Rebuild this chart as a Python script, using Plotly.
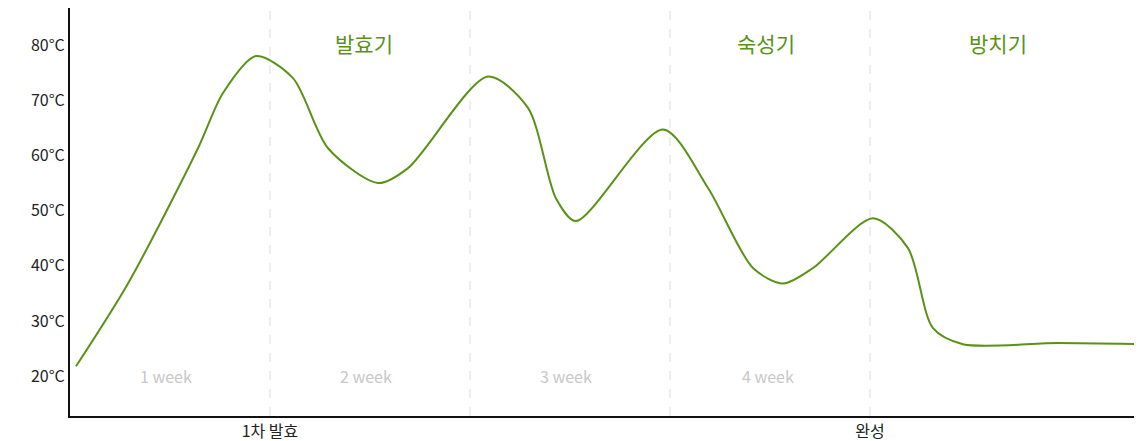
import plotly.graph_objects as go

# curve (x in weeks, y in °C)
week_x = [0.03, 0.29, 0.64, 0.765, 0.93, 1.115, 1.29, 1.54, 1.69, 2.09, 2.29, 2.43, 2.53,
          2.965, 3.19, 3.415, 3.565, 3.715, 4.015, 4.19, 4.315, 4.465, 4.94, 5.365]
temp_y = [21.8, 36.8, 61.3, 71.3, 78.0, 74.0, 61.3, 55.0, 57.7, 74.3, 68.6, 52.2, 48.1,
          64.7, 54.1, 39.6, 36.8, 39.6, 48.6, 43.2, 28.7, 25.8, 26.0, 25.8]
y_ticks = [20, 30, 40, 50, 60, 70, 80]
y_labels = [f"{v}°C" for v in y_ticks]
x_ticks = [1, 4]
x_labels = ["1차 발효", "완성"]
week_labels = ["1 week", "2 week", "3 week", "4 week"]
week_pos = [0.48, 1.48, 2.48, 3.49]
phase_labels = ["발효기", "숙성기", "방치기"]
phase_pos = [1.47, 3.48, 4.64]
dividers = [1, 2, 3, 4]

green = "#5a9216"
font = "Noto Sans CJK KR"

fig = go.Figure()
fig.add_trace(go.Scatter(x=week_x, y=temp_y, mode="lines",
                         line=dict(color=green, width=2, shape="spline", smoothing=0.8),
                         hoverinfo="skip"))

for d in dividers:
    fig.add_shape(type="line", x0=d, x1=d, y0=12.8, y1=86.7,
                  line=dict(color="#dddddd", width=1, dash="dash"), layer="below")

for t, p in zip(week_labels, week_pos):
    fig.add_annotation(x=p, y=20, text=t, showarrow=False,
                       font=dict(size=16, color="#c8c8c8", family=font))
for t, p in zip(phase_labels, phase_pos):
    fig.add_annotation(x=p, y=80.3, text=t, showarrow=False,
                       font=dict(size=21, color=green, family=font))

# arrow head at the end of the x axis
fig.add_annotation(x=5.4, y=12.8, ax=5.33, ay=12.8, axref="x", ayref="y",
                   text="", showarrow=True, arrowhead=2, arrowsize=1.3,
                   arrowwidth=2, arrowcolor="#111111")

fig.update_layout(
    width=1142, height=441, showlegend=False,
    paper_bgcolor="white", plot_bgcolor="white",
    margin=dict(l=62, r=0, t=0, b=33),
    font=dict(family=font, size=16, color="#222222"),
    xaxis=dict(range=[0, 5.4], showgrid=False, zeroline=False, automargin=False,
               showline=True, linecolor="#111111", linewidth=2,
               tickvals=x_ticks, ticktext=x_labels, ticks="",
               tickfont=dict(size=16)),
    yaxis=dict(range=[12.8, 86.7], showgrid=False, zeroline=False, automargin=False,
               showline=True, linecolor="#111111", linewidth=2,
               tickvals=y_ticks, ticktext=y_labels, ticks="",
               tickfont=dict(size=16)),
)

fig.write_html("out.html")
